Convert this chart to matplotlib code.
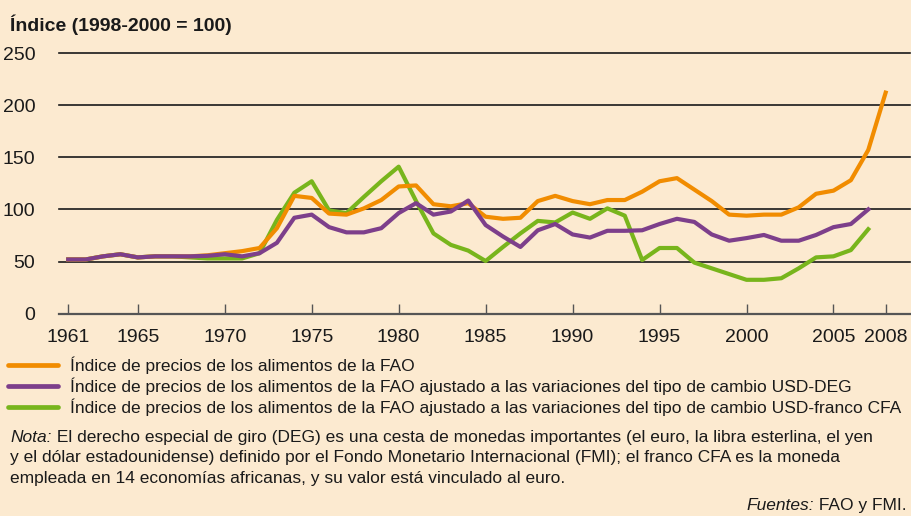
import matplotlib
matplotlib.use("Agg")
import matplotlib.pyplot as plt
from matplotlib.lines import Line2D

plt.rcParams['font.family'] = ['Liberation Sans', 'DejaVu Sans']

years = list(range(1961, 2009))

# Índice de precios de los alimentos de la FAO (1961-2008)
fao = [52, 52, 55, 57, 54, 55, 55, 55, 56, 58,
       60, 63, 82, 113, 111, 96, 95, 101, 109, 122,
       123, 105, 103, 106, 93, 91, 92, 108, 113, 108,
       105, 109, 109, 117, 127, 130, 119, 108, 95, 94,
       95, 95, 102, 115, 118, 128, 157, 212]
# ajustado USD-DEG (1961-2007)
fao_deg = [52, 52, 55, 57, 54, 55, 55, 55, 55.5, 57,
           55, 58, 68, 92, 95, 83, 78, 78, 82, 96.5,
           106, 95, 98, 108.5, 85, 74, 64, 80, 86, 76,
           73, 79.5, 79.5, 80, 86, 91, 88, 76, 70, 72.5,
           75.5, 70, 70, 75.5, 83, 86, 100]
# ajustado USD-franco CFA (1961-2007)
fao_cfa = [52, 52, 55, 57, 54, 55, 55, 54, 53, 53,
           53, 58, 90, 116, 127, 99, 96.5, 112, 127, 141,
           108, 77, 66, 60.5, 50.5, 64, 77, 89, 87.5, 97,
           91, 101, 94, 51.5, 63, 63, 49, 43.5, 38, 32.5,
           32.5, 34, 43.5, 54, 55, 61, 81]

labels = ["Índice de precios de los alimentos de la FAO",
          "Índice de precios de los alimentos de la FAO ajustado a las variaciones del tipo de cambio USD-DEG",
          "Índice de precios de los alimentos de la FAO ajustado a las variaciones del tipo de cambio USD-franco CFA"]
nota_lines = ["El derecho especial de giro (DEG) es una cesta de monedas importantes (el euro, la libra esterlina, el yen",
              "y el dólar estadounidense) definido por el Fondo Monetario Internacional (FMI); el franco CFA es la moneda",
              "empleada en 14 economías africanas, y su valor está vinculado al euro."]
xticks = [1961, 1965, 1970, 1975, 1980, 1985, 1990, 1995, 2000, 2005, 2008]
yticks = [0, 50, 100, 150, 200, 250]

bg = "#FCEAD0"
txt = "#1a1a1a"
c_or = "#F18C00"
c_pu = "#7D3F8B"
c_gr = "#78B51C"
fs = 12.5

W, H = 912, 516
fig = plt.figure(figsize=(9.12, 5.16), dpi=100, facecolor=bg)
ax = fig.add_axes([59 / W, 1 - 313.7 / H, (910 - 59) / W, (313.7 - 53) / H])
ax.set_facecolor(bg)

ax.plot(years[:-1], fao_cfa, color=c_gr, lw=3.0, solid_joinstyle="round", zorder=3)
ax.plot(years, fao, color=c_or, lw=3.0, solid_joinstyle="round", zorder=4)
ax.plot(years[:-1], fao_deg, color=c_pu, lw=3.0, solid_joinstyle="round", zorder=5)

ax.set_xlim(1960.47, 2009.4)
ax.set_ylim(0, 250)
ax.set_xticks(xticks)
ax.set_yticks(yticks)
ax.tick_params(axis="x", direction="in", length=7, width=1, color="#555555",
               labelsize=14, pad=11, labelcolor=txt)
ax.tick_params(axis="y", length=0, labelsize=14, pad=17, labelcolor=txt)

for v in yticks[1:]:
    ax.axhline(v, color=txt, lw=1.2, zorder=2, clip_on=False)
for s in ["left", "right", "top"]:
    ax.spines[s].set_visible(False)
ax.spines["bottom"].set_color("#555555")
ax.spines["bottom"].set_linewidth(1.6)

fig.text(10 / W, 1 - 25 / H, "Índice (1998-2000 = 100)", fontsize=14,
         fontweight="bold", va="center", ha="left", color=txt)

# leyenda
rows = [371, 391.7, 412.7]
for y, col, lab in zip(rows, [c_or, c_pu, c_gr], labels):
    fig.add_artist(Line2D([8 / W, 58 / W], [1 - (y - 6) / H] * 2, color=col,
                          lw=3.4, solid_capstyle="round", transform=fig.transFigure))
    fig.text(70 / W, 1 - y / H, lab, fontsize=fs, va="baseline", ha="left", color=txt)

# nota
nota = fig.text(10 / W, 1 - 441.7 / H, "Nota:", fontsize=fs, style="italic",
                va="baseline", ha="left", color=txt)
ax.annotate(" " + nota_lines[0], xy=(1, 0), xycoords=nota, va="bottom", ha="left",
            fontsize=fs, color=txt, annotation_clip=False)
fig.text(10 / W, 1 - 462 / H, nota_lines[1], fontsize=fs, va="baseline",
         ha="left", color=txt)
fig.text(10 / W, 1 - 482.7 / H, nota_lines[2], fontsize=fs, va="baseline",
         ha="left", color=txt)

fu = fig.text(907 / W, 1 - 510 / H, " FAO y FMI.", fontsize=fs, va="baseline",
              ha="right", color=txt)
ax.annotate("Fuentes:", xy=(0, 0), xycoords=fu, va="bottom", ha="right",
            fontsize=fs, style="italic", color=txt, annotation_clip=False)

fig.savefig("out.png", dpi=100, facecolor=bg)
